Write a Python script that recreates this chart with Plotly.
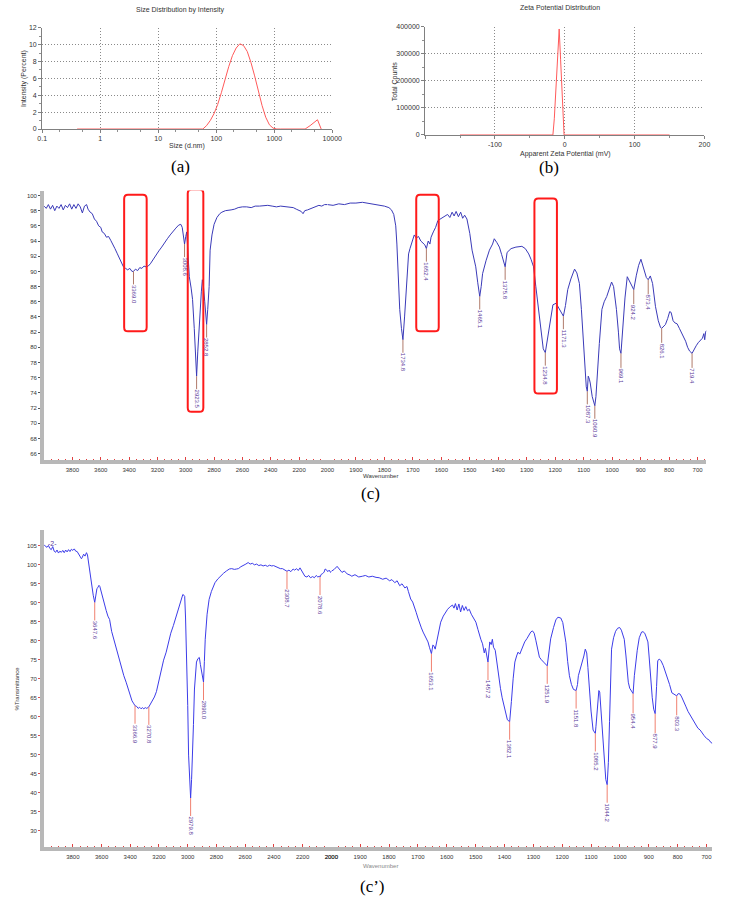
import plotly.graph_objects as go

# ---------------- (a) Size distribution ----------------
size_nm = [0.4, 50.75, 58.77, 68.06, 78.82, 91.28, 105.7, 122.4, 141.8, 164.2, 190.1, 220.2, 255.0,
           295.3, 342.0, 396.1, 458.7, 531.2, 615.1, 712.4, 825.0, 955.4, 1106, 1281, 1484, 1718,
           1990, 2305, 2669, 3091, 3400, 4145, 4801, 5560, 6439]
intensity_pct = [0, 0, 0, 0.4, 1.0, 1.8, 2.9, 4.3, 5.9, 7.4, 8.7, 9.6, 10.1,
                 9.9, 9.2, 7.9, 6.3, 4.5, 2.8, 1.4, 0.5, 0.1, 0, 0, 0, 0,
                 0, 0, 0, 0, 0, 0.4, 0.75, 1.1, 0]

# ---------------- (b) Zeta potential ----------------
zeta_mv = [-150, -17, -15, -13, -11, -9, -8, -6, -4, -2, -1, 150]
total_counts = [0, 0, 60000, 160000, 260000, 360000, 392000, 280000, 168000, 56000, 0, 0]

# ---------------- (c) FTIR spectrum ----------------
c_wn = [4000, 3985, 3970, 3955, 3940, 3925, 3910, 3895, 3880, 3865, 3850, 3835, 3820, 3805, 3790, 3775,
        3760, 3745, 3730, 3715, 3700, 3690, 3675, 3660, 3645, 3630, 3615, 3600, 3590, 3575, 3560, 3545,
        3530, 3515, 3500, 3485, 3470, 3455, 3440, 3425, 3410, 3395, 3380, 3369, 3355, 3340, 3325, 3310,
        3295, 3280, 3265, 3250, 3230, 3210, 3190, 3170, 3150, 3130, 3110, 3090, 3070, 3050, 3035, 3025,
        3015, 3008.6, 3000, 2993, 2985, 2975, 2962, 2952, 2940, 2931, 2923.5, 2915, 2903, 2890, 2883,
        2875, 2866, 2858, 2852.8, 2845, 2835, 2828, 2815, 2800, 2780, 2760, 2745, 2720, 2700, 2680, 2655,
        2630, 2600, 2570, 2538, 2510, 2480, 2450, 2421, 2390, 2360, 2330, 2300, 2270, 2241, 2220, 2200,
        2185, 2172, 2160, 2140, 2124, 2100, 2080, 2060, 2040, 2020, 2000,
        1980, 1960, 1940, 1920, 1900, 1877, 1860, 1840, 1820, 1800, 1784, 1775, 1767, 1760, 1756, 1750,
        1746, 1740, 1734.8, 1729, 1722, 1715, 1710, 1705, 1700, 1695, 1688, 1680, 1672, 1665, 1658,
        1652.4, 1646, 1640, 1636, 1628, 1620, 1612, 1600, 1590, 1578, 1570, 1562, 1555, 1548, 1540, 1532,
        1525, 1518, 1510, 1500, 1492, 1485, 1479, 1472, 1465.1, 1460, 1455, 1443, 1431, 1420, 1414, 1405,
        1396, 1388, 1380, 1375.8, 1369, 1355, 1338, 1317, 1305, 1293, 1285, 1276, 1268, 1259, 1250, 1242,
        1234.8, 1225, 1215, 1208, 1197, 1188, 1180, 1171.3, 1164, 1156, 1145, 1132, 1124, 1115, 1108,
        1098, 1091, 1087.3, 1084, 1080, 1077, 1070, 1064, 1060.9, 1057, 1053, 1045, 1036, 1028, 1019,
        1010, 1002, 995, 985, 978, 974, 969.1, 961, 955, 947, 938, 930, 924.2, 915, 907, 899, 888, 880,
        873.4, 866, 858, 848, 838, 830, 826.1, 820, 813, 805, 798, 793, 786, 779, 772, 764, 757, 750,
        742, 735, 728, 719.4, 712, 705, 698, 690, 683, 678, 675, 672, 669]
c_t = [98.6, 98.3, 98.8, 98.2, 98.7, 98.0, 98.6, 98.3, 98.8, 98.1, 98.7, 98.4, 98.9, 98.2, 98.8, 98.3,
       98.9, 98.5, 97.7, 98.6, 98.8, 98.2, 97.8, 97.6, 96.9, 96.6, 96.0, 95.8, 95.2, 95.0, 94.5, 94.6,
       94.1, 93.6, 93.0, 92.4, 91.8, 91.2, 90.6, 90.4, 90.2, 90.4, 90.0, 90.0, 90.3, 90.1, 90.5, 90.4,
       90.7, 90.6, 90.7, 91.0, 91.6, 92.2, 92.7, 93.2, 93.8, 94.3, 94.8, 95.3, 95.7, 96.1, 96.2, 95.8,
       94.5, 93.6, 94.6, 95.2, 92.5, 89.3, 87.8, 86.3, 82.5, 79.7, 76.2, 79.5, 84.0, 87.3, 88.9,
       88.0, 86.0, 84.0, 83.0, 85.0, 88.0, 92.8, 94.8, 96.2, 97.1, 97.6, 97.8, 98.0, 98.1, 98.1, 98.2,
       98.4, 98.5, 98.5, 98.4, 98.6, 98.6, 98.7, 98.7, 98.6, 98.5, 98.6, 98.5, 98.4, 98.4, 98.2, 98.0,
       97.9, 97.6, 98.0, 98.1, 98.2, 98.4, 98.5, 98.7, 98.6, 98.8, 98.8,
       98.7, 98.9, 98.8, 99.0, 99.0, 99.1, 99.0, 98.9, 98.8, 98.6, 98.4, 98.1, 97.5, 96.0, 93.6, 89.0,
       85.0, 82.5, 81.0, 84.0, 88.5, 92.3, 93.0, 93.6, 94.2, 94.8, 94.4, 94.6, 94.0, 93.8, 93.5,
       93.0, 94.0, 93.6, 94.5, 95.2, 95.8, 96.7, 97.0, 97.3, 97.5, 97.1, 97.8, 97.3, 97.9, 97.2, 97.8,
       97.0, 97.4, 96.9, 95.0, 92.8, 91.8, 90.6, 88.5, 86.7, 88.0, 89.7, 91.4, 92.8, 93.6, 94.3, 93.8,
       93.2, 92.2, 91.0, 90.6, 92.5, 93.0, 93.2, 93.3, 93.0, 92.3, 91.6, 90.6, 88.0, 85.0, 82.0, 79.8,
       79.3, 81.4, 84.0, 85.6, 85.8, 85.2, 84.6, 84.1, 85.5, 87.6, 89.0, 90.3, 89.8, 88.4, 85.0,
       78.4, 74.8, 74.2, 76.2, 75.8, 75.3, 73.5, 72.6, 72.3, 73.5, 76.2, 80.5, 85.0, 86.0, 86.7,
       87.6, 88.6, 88.0, 85.0, 82.0, 79.8, 79.2, 84.1, 86.5, 89.3, 88.6, 87.9, 87.6, 89.5, 90.8, 91.6, 90.0, 89.2,
       88.9, 89.4, 88.4, 85.4, 83.5, 82.6, 82.5, 82.8, 83.0, 83.8, 84.7, 84.6, 83.5, 83.2, 83.1, 82.5, 82.0, 81.5,
       80.8, 80.0, 79.5, 79.2, 79.8, 80.2, 80.6, 81.0, 81.2, 81.8, 81.0, 82.0, 82.2]
c_peak_wn = [3369.0, 3008.6, 2923.5, 2852.8, 1734.8, 1652.4, 1465.1, 1375.8, 1234.8, 1171.3,
             1087.3, 1060.9, 969.1, 924.2, 873.4, 826.1, 719.4]
c_peak_t = [90.0, 93.6, 76.2, 83.0, 81.0, 93.0, 86.7, 90.6, 79.3, 84.1,
            74.2, 72.3, 79.2, 87.6, 88.9, 82.5, 79.2]
# highlighted regions (wavenumber from, to, %T from, to)
c_boxes = [(3435, 3276, 82.1, 100.1), (2986, 2876, 71.5, 100.8),
           (1688, 1609, 82.1, 100.1), (1273, 1194, 73.9, 99.6)]

# ---------------- (c') FTIR spectrum ----------------
d_wn = [4000, 3990, 3980, 3970, 3960, 3950, 3940, 3930, 3920, 3910, 3900, 3890, 3880, 3870, 3860, 3850,
        3840, 3830, 3820, 3810, 3800, 3790, 3780, 3770, 3760, 3750, 3740, 3735, 3725, 3715, 3705, 3698,
        3690, 3682, 3675, 3667, 3658, 3647.6, 3640, 3632, 3626, 3618, 3612, 3603, 3592, 3580, 3568, 3556,
        3544, 3530, 3515, 3500, 3490, 3475, 3460, 3445, 3429, 3415, 3400, 3388, 3375, 3366.9, 3355, 3345,
        3335, 3325, 3315, 3306, 3295, 3285, 3270.8, 3260, 3245, 3232, 3218, 3200, 3185, 3168, 3150, 3135,
        3118, 3100, 3082, 3065, 3050, 3034, 3027, 3021, 3015, 3007, 3000, 2994, 2987, 2979.8, 2973, 2966,
        2960, 2953, 2946, 2939, 2929, 2919, 2912, 2905, 2897, 2890.0, 2884, 2878, 2865, 2851, 2835, 2822,
        2810, 2790, 2770, 2750, 2730, 2710, 2694, 2675, 2660, 2647, 2630, 2612, 2595, 2579, 2565, 2550,
        2535, 2520, 2505, 2490, 2475, 2460, 2445, 2430, 2415, 2402, 2385, 2370, 2355, 2340, 2325, 2308.7,
        2295, 2282, 2266, 2255, 2242, 2230, 2218, 2205, 2194, 2184, 2170, 2158, 2145, 2130, 2118, 2105,
        2094, 2082, 2078.6, 2070, 2060, 2050, 2043, 2034, 2025, 2015, 2005, 2000,
        1990, 1980, 1972, 1963, 1955, 1945, 1935, 1929, 1918, 1905, 1892, 1882, 1870, 1858, 1845, 1834,
        1822, 1810, 1798, 1790, 1780, 1772, 1763, 1755, 1745, 1738, 1733, 1725, 1718, 1712, 1706, 1700,
        1694, 1688, 1682, 1675, 1668, 1665, 1660, 1653.1, 1648, 1645, 1640, 1634, 1628, 1621, 1612, 1604,
        1597, 1588, 1580, 1575, 1570, 1564, 1558, 1552, 1546, 1540, 1534, 1528, 1522, 1515, 1508, 1499,
        1492, 1486, 1482, 1476, 1470, 1466, 1462, 1457.2, 1451, 1446, 1442, 1438, 1432, 1426, 1421, 1414,
        1408, 1401, 1395, 1390, 1382.1, 1380, 1376, 1370, 1364, 1358, 1353, 1347, 1342, 1336, 1330, 1322,
        1315, 1309, 1303, 1297, 1291, 1285, 1279, 1272, 1266, 1262, 1251.9, 1248, 1240, 1230, 1222, 1215,
        1205, 1198, 1194, 1187, 1181, 1175, 1168, 1161, 1151.8, 1147, 1144, 1137, 1130, 1125, 1120, 1115,
        1111, 1106, 1100, 1093, 1085.2, 1083, 1079, 1076, 1073, 1070, 1066, 1060, 1055, 1049, 1044.2, 1040,
        1036, 1032, 1029, 1022, 1015, 1008, 1001, 995, 990, 985, 979, 975, 971, 966, 960, 954.4, 950, 945,
        940, 933, 925, 920, 914, 909, 903, 899, 894, 888, 883, 877.9, 873, 869, 864, 858, 850, 842, 835,
        828, 820, 814, 808, 803.3, 798, 792, 786, 780, 772, 764, 757, 750, 742, 735, 730, 722, 715, 708,
        700, 694, 690, 686, 680]
d_t = [105.2, 105.0, 104.6, 105.1, 104.3, 104.0, 104.8, 103.6, 103.3, 103.9, 103.1, 103.6, 103.3, 103.8, 103.2, 103.9,
       103.4, 104.0, 103.5, 104.1, 103.8, 104.2, 103.6, 103.5, 102.9, 102.2, 101.6, 101.9, 102.8, 102.3, 103.2, 102.6,
       100.5, 97.5, 96.0, 94.0, 92.0, 90.1, 92.5, 93.8, 94.0, 94.6, 94.3, 93.0, 90.9, 89.5, 88.0, 86.5,
       85.6, 82.5, 80.3, 78.5, 76.9, 74.6, 72.5, 70.8, 69.1, 67.3, 65.5, 64.2, 63.4, 62.9, 62.7, 62.2,
       62.5, 62.1, 62.4, 62.1, 62.4, 62.2, 62.6, 63.3, 64.2, 65.2, 66.6, 69.6, 72.0, 74.9, 77.0, 79.6,
       82.0, 84.0, 86.4, 88.5, 90.3, 92.2, 92.0, 91.7, 86.0, 76.0, 63.0, 49.9, 43.0, 38.6, 43.5, 49.9,
       58.0, 67.3, 71.5, 74.4, 75.3, 75.6, 73.8, 72.1, 70.5, 69.1, 74.5, 80.4, 87.0, 90.9, 93.0, 94.4,
       95.3, 96.3, 97.2, 97.8, 98.4, 98.9, 99.0, 98.8, 98.9, 99.0, 99.5, 99.8, 100.2, 100.6, 100.2, 100.4,
       100.0, 100.2, 99.8, 100.0, 99.7, 99.9, 99.6, 99.9, 99.7, 99.8, 99.5, 99.2, 99.0, 99.0, 98.7, 98.3,
       98.6, 98.2, 98.9, 98.6, 99.0, 98.5, 99.2, 98.4, 97.6, 97.0, 96.8, 97.2, 96.6, 96.9, 96.6, 97.2,
       96.8, 97.0, 96.8, 97.5, 97.7, 98.1, 98.9, 98.7, 98.2, 98.6, 98.0, 98.3,
       98.8, 99.6, 98.8, 98.0, 98.4, 97.6, 97.3, 97.0, 97.4, 96.8, 97.0, 97.2, 96.8, 97.0, 96.7, 96.6,
       96.2, 96.5, 95.8, 96.1, 95.3, 95.8, 94.5, 95.0, 93.9, 94.3, 93.0, 91.0, 90.2, 88.5, 87.5, 86.0,
       84.5, 83.4, 82.3, 81.2, 80.5, 79.7, 78.3, 76.6, 78.9, 78.7, 77.8, 80.2, 82.5, 84.9, 86.5, 87.6,
       88.3, 89.0, 89.4, 88.6, 89.8, 88.1, 89.7, 87.6, 89.3, 88.0, 89.0, 87.9, 88.3, 87.0, 86.2, 84.9,
       83.0, 81.0, 80.4, 79.2, 76.8, 78.0, 76.0, 74.4, 79.7, 79.0, 80.4, 78.3, 77.5, 74.0, 70.8, 67.5,
       65.0, 62.9, 60.5, 59.2, 58.7, 60.0, 64.0, 70.0, 74.4, 76.0, 77.0, 76.5, 77.6, 78.5, 79.7, 80.6,
       81.4, 82.3, 82.6, 82.0, 80.0, 77.5, 75.7, 75.0, 74.4, 74.2, 73.4, 76.0, 80.5, 83.5, 85.5, 86.2,
       86.0, 84.8, 83.0, 79.5, 74.5, 70.8, 68.5, 67.2, 66.9, 68.5, 70.8, 72.5, 74.5, 76.0, 77.8, 76.8,
       73.0, 67.3, 61.5, 56.5, 55.6, 57.5, 60.5, 64.0, 66.9, 66.5, 62.0, 55.0, 48.0, 43.5, 42.1, 48.0,
       58.7, 70.0, 77.8, 80.8, 82.5, 83.3, 83.5, 82.8, 81.8, 80.4, 76.0, 72.0, 69.1, 67.5, 66.8, 66.1, 70.8, 74.5,
       77.5, 80.8, 82.3, 82.4, 82.0, 81.0, 79.7, 76.0, 70.0, 65.0, 62.0, 60.8, 68.0, 74.7, 75.2, 74.8, 73.5, 71.8, 70.0,
       68.5, 66.3, 66.0, 65.8, 65.5, 66.1, 66.0, 65.2, 64.3, 62.8, 61.4, 60.5, 59.7, 58.8, 57.6, 57.0, 56.5, 55.6, 55.0,
       54.3, 54.0, 53.8, 53.3, 53.0]
d_peak_wn = [3647.6, 3366.9, 3270.8, 2979.8, 2890.0, 2308.7, 2078.6, 1653.1, 1457.2, 1382.1,
             1251.9, 1151.8, 1085.2, 1044.2, 954.4, 877.9, 803.3]
d_peak_t = [90.1, 62.9, 62.6, 38.6, 69.1, 98.3, 96.8, 76.6, 74.4, 58.7,
            73.4, 66.9, 55.6, 42.1, 66.1, 60.8, 65.5]

left_ticks = [3800, 3600, 3400, 3200, 3000, 2800, 2600, 2400, 2200, 2000]
right_ticks_c = [1900, 1800, 1700, 1600, 1500, 1400, 1300, 1200, 1100, 1000, 900, 800, 700]
right_ticks_d = [2000, 1900, 1800, 1700, 1600, 1500, 1400, 1300, 1200, 1100, 1000, 900, 800, 700]

W, H = 734, 902
def px(x):
    return x / W
def py(y):
    return 1 - y / H

SANS = "Arial, Liberation Sans, sans-serif"
SERIF = "Times New Roman, Liberation Serif, serif"

fig = go.Figure()

fig.add_trace(go.Scatter(x=size_nm, y=intensity_pct, mode="lines",
                         line=dict(color="#ff5a5a", width=1), xaxis="x", yaxis="y"))
fig.add_trace(go.Scatter(x=zeta_mv, y=total_counts, mode="lines",
                         line=dict(color="#ff5a5a", width=1), xaxis="x2", yaxis="y2"))

def split(wn, t):
    lw = [w for w in wn if w >= 2000]
    lt = [v for w, v in zip(wn, t) if w >= 2000]
    rw = [w for w in wn if w <= 2000]
    rt = [v for w, v in zip(wn, t) if w <= 2000]
    return lw, lt, rw, rt

cl, clt, cr, crt = split(c_wn, c_t)
dl, dlt, dr, drt = split(d_wn, d_t)
C_COL = "#3a3ab8"
D_COL = "#3c3ce8"
fig.add_trace(go.Scatter(x=cl, y=clt, mode="lines", line=dict(color=C_COL, width=1), xaxis="x3", yaxis="y3"))
fig.add_trace(go.Scatter(x=cr, y=crt, mode="lines", line=dict(color=C_COL, width=1), xaxis="x4", yaxis="y3"))
fig.add_trace(go.Scatter(x=dl, y=dlt, mode="lines", line=dict(color=D_COL, width=1), xaxis="x5", yaxis="y4"))
fig.add_trace(go.Scatter(x=dr, y=drt, mode="lines", line=dict(color=D_COL, width=1), xaxis="x6", yaxis="y4"))

tickfont = dict(family=SANS, size=7, color="#333")
specfont = dict(family=SANS, size=6, color="#333")
GRID = dict(showgrid=True, gridcolor="#8a8a8a", griddash="1px,2px", gridwidth=1)

layout = dict(
    width=W, height=H, margin=dict(l=0, r=0, t=0, b=0),
    paper_bgcolor="white", plot_bgcolor="white", showlegend=False,
    # (a)
    xaxis=dict(type="log", range=[-1, 4], domain=[px(36), px(333)], anchor="y",
               tickvals=[0.1, 1, 10, 100, 1000, 10000], ticktext=["0.1", "1", "10", "100", "1000", "10000"],
               showline=True, linecolor="#808080", linewidth=1, ticks="outside", ticklen=3,
               tickcolor="#808080", tickfont=tickfont, zeroline=False,
               minor=dict(ticks="outside", ticklen=2, tickcolor="#909090", showgrid=False), **GRID),
    yaxis=dict(range=[0, 12], domain=[py(126), py(24)], anchor="x", dtick=2,
               showline=True, linecolor="#808080", linewidth=1, ticks="outside", ticklen=3,
               tickcolor="#808080", tickfont=tickfont, zeroline=False,
               minor=dict(ticks="outside", ticklen=2, tickcolor="#909090", dtick=1, showgrid=False), **GRID),
    # (b)
    xaxis2=dict(range=[-200, 200], domain=[px(428), px(714)], anchor="y2",
                tickvals=[-200, -100, 0, 100, 200], ticktext=["", "-100", "0", "100", "200"],
                showline=True, linecolor="#808080", linewidth=1, ticks="outside", ticklen=3,
                tickcolor="#808080", tickfont=tickfont, zeroline=False,
                minor=dict(ticks="outside", ticklen=2, tickcolor="#909090", dtick=50, showgrid=False), **GRID),
    yaxis2=dict(range=[0, 400000], domain=[py(132), py(23)], anchor="x2", dtick=100000,
                tickformat="d",
                showline=True, linecolor="#808080", linewidth=1, ticks="outside", ticklen=3,
                tickcolor="#808080", tickfont=tickfont, zeroline=False,
                minor=dict(ticks="outside", ticklen=2, tickcolor="#909090", dtick=50000, showgrid=False), **GRID),
    # (c)
    xaxis3=dict(range=[4000, 2000], domain=[px(38), px(328)], anchor="y3",
                tickvals=left_ticks, ticktext=[str(v) for v in left_ticks],
                showgrid=False, zeroline=False, showline=True, linecolor="#b8b8b8", linewidth=4,
                ticks="inside", ticklen=3, tickcolor="#e04040", tickfont=specfont,
                minor=dict(ticks="inside", ticklen=1, tickcolor="#e04040", dtick=50, showgrid=False)),
    xaxis4=dict(range=[2000, 669], domain=[px(328), px(716)], anchor="y3",
                tickvals=right_ticks_c, ticktext=[str(v) for v in right_ticks_c],
                showgrid=False, zeroline=False, showline=True, linecolor="#b8b8b8", linewidth=4,
                ticks="inside", ticklen=3, tickcolor="#e04040", tickfont=specfont,
                minor=dict(ticks="inside", ticklen=1, tickcolor="#e04040", dtick=25, showgrid=False)),
    yaxis3=dict(range=[65.1, 100.65], domain=[py(460), py(188)], anchor="x3", dtick=2,
                showgrid=False, zeroline=False, showline=True, linecolor="#b8b8b8", linewidth=4,
                ticks="outside", ticklen=2, tickcolor="#555", tickfont=specfont),
    # (c')
    xaxis5=dict(range=[4000, 2000], domain=[px(38), px(332)], anchor="y4",
                tickvals=left_ticks, ticktext=[str(v) for v in left_ticks],
                showgrid=False, zeroline=False, showline=True, linecolor="#b8b8b8", linewidth=4,
                ticks="inside", ticklen=3, tickcolor="#e04040", tickfont=specfont,
                minor=dict(ticks="inside", ticklen=1, tickcolor="#e04040", dtick=50, showgrid=False)),
    xaxis6=dict(range=[2000, 680], domain=[px(332), px(722)], anchor="y4",
                tickvals=right_ticks_d, ticktext=[str(v) for v in right_ticks_d],
                showgrid=False, zeroline=False, showline=True, linecolor="#b8b8b8", linewidth=4,
                ticks="inside", ticklen=3, tickcolor="#e04040", tickfont=specfont,
                minor=dict(ticks="inside", ticklen=1, tickcolor="#e04040", dtick=25, showgrid=False)),
    yaxis4=dict(range=[25.6, 109.2], domain=[py(850), py(530)], anchor="x5",
                tickvals=list(range(30, 110, 5)),
                showgrid=False, zeroline=False, showline=True, linecolor="#b8b8b8", linewidth=4,
                ticks="outside", ticklen=2, tickcolor="#e05050", tickfont=specfont),
)
fig.update_layout(**layout)

ann = []
def txt(x, y, s, size=7, angle=0, family=SANS, color="#333"):
    ann.append(dict(x=px(x), y=py(y), xref="paper", yref="paper", text=s, showarrow=False,
                    textangle=angle, font=dict(family=family, size=size, color=color),
                    xanchor="center", yanchor="middle"))

txt(177, 6, "Size Distribution by Intensity")
txt(184, 143, "Size (d.nm)")
txt(18, 75, "Intensity (Percent)", angle=-90)
txt(178, 164, "(a)", size=17, family=SERIF, color="#000")
txt(566, 4, "Zeta Potential Distribution")
txt(572, 151, "Apparent Zeta Potential (mV)")
txt(397, 78, "Total Counts", angle=-90)
txt(555, 165, "(b)", size=17, family=SERIF, color="#000")
txt(382, 476, "Wavenumber", size=6)
txt(372, 493, "(c)", size=17, family=SERIF, color="#000")
txt(10, 690, "%Transmittance", size=6, angle=-90)
txt(382, 869, "Wavenumber", size=6, color="#888")
txt(374, 889, "(c\u2019)", size=17, family=SERIF, color="#000")

PURPLE = "#5a3a9a"
def peak_labels(wns, ts, xl, xr, yref, linecol, size, ay):
    for w, t in zip(wns, ts):
        ann.append(dict(x=w, y=t, xref=xl if w >= 2000 else xr, yref=yref,
                        text="%.1f" % w, showarrow=True, arrowhead=0, arrowwidth=1,
                        arrowcolor=linecol, ax=0, ay=ay, standoff=0, textangle=90,
                        font=dict(family=SANS, size=size, color=PURPLE), borderpad=0))

peak_labels(c_peak_wn, c_peak_t, "x3", "x4", "y3", "#b07a6a", 6, 23)
peak_labels(d_peak_wn, d_peak_t, "x5", "x6", "y4", "#f08070", 6, 28)

ann.append(dict(x=3940, y=105.6, xref="x5", yref="y4", text="-2-", showarrow=False,
                font=dict(family=SANS, size=7, color=PURPLE)))

fig.update_layout(annotations=ann)

def rounded(xa, xb, ya, yb, rx, ry):
    x0, x1 = min(xa, xb), max(xa, xb)
    y0, y1 = min(ya, yb), max(ya, yb)
    return (f"M {x0+rx},{y0} L {x1-rx},{y0} Q {x1},{y0} {x1},{y0+ry} L {x1},{y1-ry} "
            f"Q {x1},{y1} {x1-rx},{y1} L {x0+rx},{y1} Q {x0},{y1} {x0},{y1-ry} "
            f"L {x0},{y0+ry} Q {x0},{y0} {x0+rx},{y0} Z")

shapes = []
for (xa, xb, ya, yb) in c_boxes:
    left = min(xa, xb) >= 2000
    xref = "x3" if left else "x4"
    rx = 27 if left else 13.5
    shapes.append(dict(type="path", xref=xref, yref="y3", path=rounded(xa, xb, ya, yb, rx, 0.55),
                       line=dict(color="#ff1a1a", width=2)))
fig.update_layout(shapes=shapes)

fig.write_html("out.html")
